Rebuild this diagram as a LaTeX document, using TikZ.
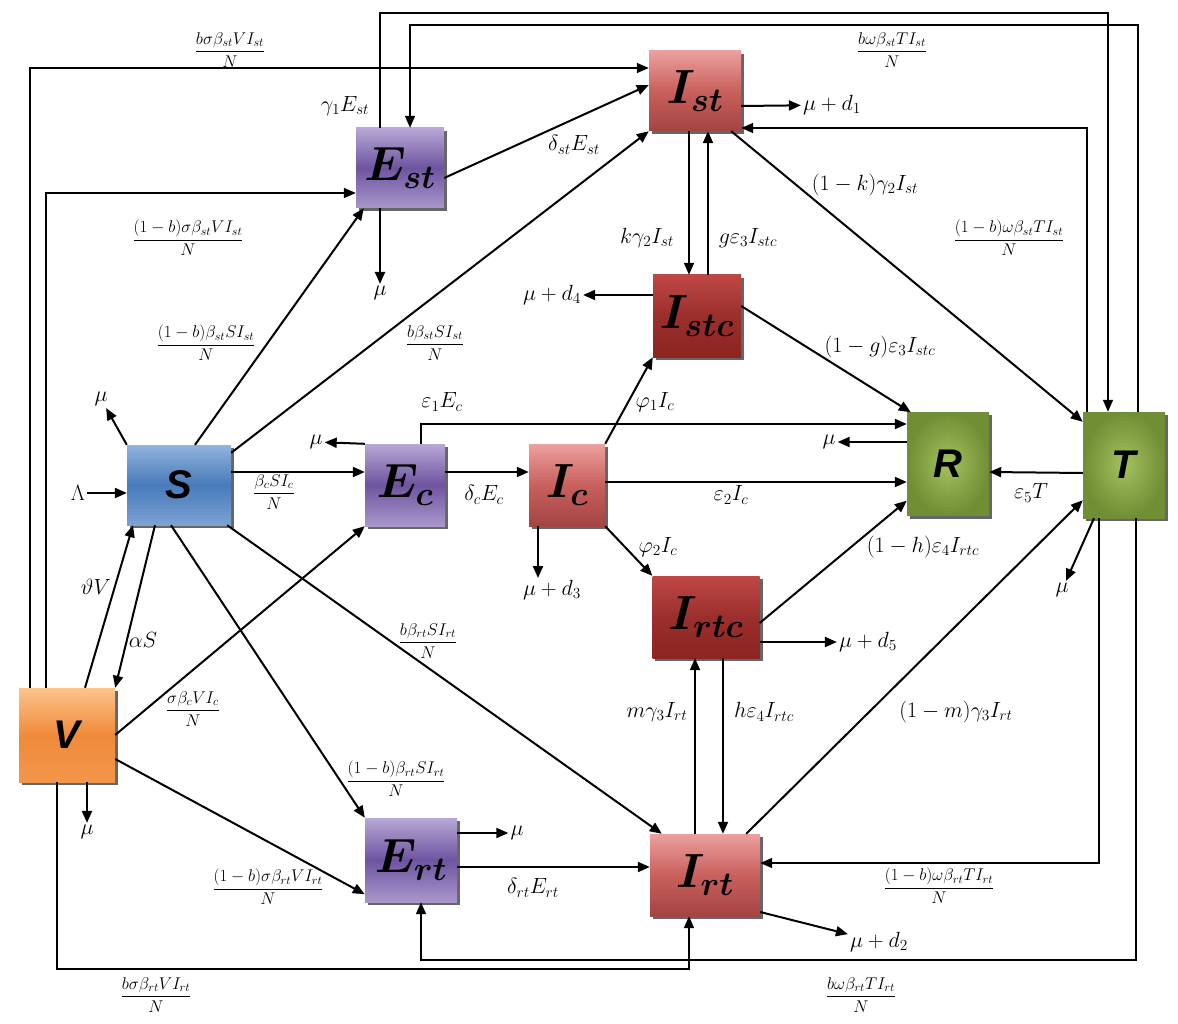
\RequirePackage{fix-cm}
\documentclass[tikz,border=0pt]{standalone}
\usepackage{amsmath}
\usepackage{fontspec}
\newfontfamily\boxsans{Liberation Sans}
\usetikzlibrary{arrows.meta}
\pgfdeclarelayer{back}
\pgfsetlayers{back,main}

\definecolor{purpleL}{RGB}{184,168,214}
\definecolor{purpleD}{RGB}{110,84,160}
\definecolor{redL}{RGB}{236,160,158}
\definecolor{redD}{RGB}{192,80,77}
\definecolor{dredL}{RGB}{190,72,70}
\definecolor{dredD}{RGB}{140,36,34}
\definecolor{blueL}{RGB}{146,180,222}
\definecolor{blueD}{RGB}{72,122,186}
\definecolor{greenL}{RGB}{164,194,94}
\definecolor{greenD}{RGB}{112,142,52}
\definecolor{orangeL}{RGB}{251,196,140}
\definecolor{orangeD}{RGB}{240,138,58}

\tikzset{
	cbox/.style={minimum width=88pt, minimum height=80pt, inner sep=0pt, font=\fontsize{48}{52}\selectfont},
	sansname/.style={font=\fontsize{40}{44}\selectfont\boxsans\bfseries\itshape},
	purplebox/.style={cbox, top color=purpleL, bottom color=purpleL!80!purpleD, middle color=purpleD},
	redbox/.style={cbox, top color=redL, bottom color=redD!85!black, middle color=redD!80!redL},
	darkredbox/.style={cbox, top color=dredL, bottom color=dredD, middle color=dredD!70!dredL},
	bluebox/.style={cbox, top color=blueL, bottom color=blueL!70!blueD, middle color=blueD},
	greenbox/.style={cbox, inner color=greenL, outer color=greenD},
	orangebox/.style={cbox, top color=orangeL, bottom color=orangeD!80!orangeL, middle color=orangeD},
	flowline/.style={line width=2pt, -{Triangle[length=12pt,width=10pt]}},
	rail/.style={flowline, line width=1.5pt},
	lbl/.style={font=\fontsize{22}{26}\selectfont, inner sep=2pt},
	fraclbl/.style={font=\fontsize{17}{20}\selectfont, inner sep=1pt},
}

\begin{document}
\begin{tikzpicture}[x=1pt, y=-1pt]
	\useasboundingbox (0,0) rectangle (1178,1024);

	\node[purplebox] (Est) at (400,168) {$\boldsymbol{E_{st}}$};
	\node[redbox, minimum width=92pt] (Ist) at (695,91) {$\boldsymbol{I_{st}}$};
	\node[darkredbox, minimum height=82pt] (Istc) at (697,316) {$\boldsymbol{I_{stc}}$};
	\node[bluebox, sansname, minimum width=104pt] (S) at (179,485) {S};
	\node[purplebox, minimum width=80pt, minimum height=82pt] (Ec) at (405,485) {$\boldsymbol{E_{c}}$};
	\node[redbox, minimum width=76pt, minimum height=82pt] (Ic) at (567,485) {$\boldsymbol{I_{c}}$};
	\node[greenbox, sansname, minimum width=82pt, minimum height=103pt] (R) at (948,464) {R};
	\node[greenbox, sansname, minimum width=82pt, minimum height=106pt] (T) at (1124,465) {T};
	\node[darkredbox, minimum width=107pt, minimum height=82pt] (Irtc) at (706,617) {$\boldsymbol{I_{rtc}}$};
	\node[orangebox, sansname, minimum width=96pt, minimum height=94pt] (V) at (67,735) {V};
	\node[purplebox, minimum width=92pt, minimum height=84pt] (Ert) at (411,860) {$\boldsymbol{E_{rt}}$};
	\node[redbox, minimum width=110pt, minimum height=82pt] (Irt) at (705,875) {$\boldsymbol{I_{rt}}$};
	\begin{pgfonlayer}{back}
		\foreach \n in {Est,Ist,Istc,S,Ec,Ic,R,T,Irtc,V,Ert,Irt}
			\fill[black!60] ([xshift=3pt,yshift=-3pt]\n.south west) rectangle ([xshift=3pt,yshift=-3pt]\n.north east);
	\end{pgfonlayer}

	\coordinate (cEstT) at (1108,13);
	\coordinate (cTEst) at (1138,25);
	\coordinate (cTErt) at (1136,960);
	\coordinate (cVIrt) at (57,969);

	\node[fraclbl] (fVIst) at (230,50) {$\dfrac{b\sigma\beta_{st}VI_{st}}{N}$};
	\node[fraclbl] (fTEst) at (892,50) {$\dfrac{b\omega\beta_{st}TI_{st}}{N}$};
	\node[lbl] (gEst) at (345,106) {$\gamma_1E_{st}$};
	\node[fraclbl] (fVEst) at (188,238) {$\dfrac{(1-b)\sigma\beta_{st}VI_{st}}{N}$};
	\node[lbl] (dEst) at (574,145) {$\delta_{st}E_{st}$};
	\node[lbl] (muEst) at (380,293) {$\mu$};
	\node[fraclbl] (fSEst) at (206,343) {$\dfrac{(1-b)\beta_{st}SI_{st}}{N}$};
	\node[fraclbl] (fSIst) at (435,343) {$\dfrac{b\beta_{st}SI_{st}}{N}$};
	\node[lbl] (kIst) at (647,238) {$k\gamma_2I_{st}$};
	\node[lbl] (gIstc) at (748,238) {$g\varepsilon_3I_{stc}$};
	\node[lbl] (kT) at (865,185) {$(1-k)\gamma_2I_{st}$};
	\node[fraclbl] (fTIst) at (1009,238) {$\dfrac{(1-b)\omega\beta_{st}TI_{st}}{N}$};
	\node[lbl] (mud1) at (832,105) {$\mu+d_1$};
	\node[lbl] (mud4) at (552,295) {$\mu+d_4$};
	\node[lbl] (gR) at (880,347) {$(1-g)\varepsilon_3I_{stc}$};
	\node[lbl] (muS) at (101,399) {$\mu$};
	\node[lbl] (eEc) at (442,402) {$\varepsilon_1E_c$};
	\node[lbl] (Lam) at (78,493) {$\Lambda$};
	\node[fraclbl] (fSEc) at (274,492) {$\dfrac{\beta_cSI_c}{N}$};
	\node[lbl] (dEc) at (484,495) {$\delta_cE_c$};
	\node[lbl] (muEc) at (316,442) {$\mu$};
	\node[lbl] (pIstc) at (655,402) {$\varphi_1I_c$};
	\node[lbl] (eIc) at (731,495) {$\varepsilon_2I_c$};
	\node[lbl] (muR) at (829,442) {$\mu$};
	\node[lbl] (eT) at (1031,493) {$\varepsilon_5T$};
	\node[lbl] (pIrtc) at (658,547) {$\varphi_2I_c$};
	\node[lbl] (hR) at (923,547) {$(1-h)\varepsilon_4I_{rtc}$};
	\node[lbl] (mud3) at (552,590) {$\mu+d_3$};
	\node[lbl] (muT) at (1062,590) {$\mu$};
	\node[lbl] (thV) at (96,587) {$\vartheta V$};
	\node[lbl] (aS) at (143,640) {$\alpha S$};
	\node[fraclbl] (fSIrt) at (428,641) {$\dfrac{b\beta_{rt}SI_{rt}}{N}$};
	\node[fraclbl] (fVEc) at (193,709) {$\dfrac{\sigma\beta_cVI_c}{N}$};
	\node[lbl] (mud5) at (868,642) {$\mu+d_5$};
	\node[lbl] (mIrt) at (657,712) {$m\gamma_3I_{rt}$};
	\node[lbl] (hIrtc) at (764,712) {$h\varepsilon_4I_{rtc}$};
	\node[lbl] (mT) at (956,712) {$(1-m)\gamma_3I_{rt}$};
	\node[fraclbl] (fSErt) at (396,779) {$\dfrac{(1-b)\beta_{rt}SI_{rt}}{N}$};
	\node[lbl] (muV) at (87,832) {$\mu$};
	\node[fraclbl] (fVErt) at (268,887) {$\dfrac{(1-b)\sigma\beta_{rt}VI_{rt}}{N}$};
	\node[lbl] (muErt) at (517,833) {$\mu$};
	\node[lbl] (dErt) at (533,888) {$\delta_{rt}E_{rt}$};
	\node[fraclbl] (fTIrt) at (939,886) {$\dfrac{(1-b)\omega\beta_{rt}TI_{rt}}{N}$};
	\node[lbl] (mud2) at (879,942) {$\mu+d_2$};
	\node[fraclbl] (fVIrt) at (156,995) {$\dfrac{b\sigma\beta_{rt}VI_{rt}}{N}$};
	\node[fraclbl] (fTErt) at (861,995) {$\dfrac{b\omega\beta_{rt}TI_{rt}}{N}$};

	\draw[rail] ([xshift=-37pt]V.north) |- ([yshift=23pt]Ist.west);
	\draw[rail] ([xshift=-21pt]V.north) |- ([yshift=-25pt]Est.west);
	\draw[rail] ([xshift=-20pt]Est.north) |- (cEstT) -- ([xshift=-16pt]T.north);
	\draw[rail] ([xshift=14pt]T.north) -- (cTEst) -| ([xshift=10pt]Est.north);
	\draw[rail] ([xshift=-37pt]T.north) |- ([yshift=-37pt]Ist.east);
	\draw[rail] ([xshift=-25pt]T.south) |- ([yshift=12pt]Irt.east);
	\draw[rail] ([xshift=12pt]T.south) -- (cTErt) -| ([xshift=10pt]Ert.south);
	\draw[rail] ([xshift=-10pt]V.south) -- (cVIrt) -| ([xshift=-16pt]Irt.south);

	\draw[flowline] (Lam) -- (S.west |- Lam);
	\draw[flowline] (S.north west) -- (muS);
	\draw[flowline] ([yshift=13pt]S.east) -- ([yshift=13pt]Ec.west);
	\draw[flowline] ([xshift=16pt]S.north) -- ([xshift=8pt]Est.south west);
	\draw[flowline] ([yshift=-8pt]S.north east) -- (Ist.south west);
	\draw[flowline] ([xshift=18pt]V.north) -- ([xshift=-46pt]S.south);
	\draw[flowline] ([xshift=-24pt]S.south) -- (V.north east);
	\draw[flowline] ([xshift=-8pt]S.south) -- (Ert.north west);
	\draw[flowline] ([xshift=-4pt]S.south east) -- ([xshift=12pt]Irt.north west);
	\draw[flowline] (V.east) -- (Ec.south west);
	\draw[flowline] ([yshift=-24pt]V.east) -- ([yshift=8pt]Ert.south west);
	\draw[flowline] ([xshift=20pt]V.south) -- (muV);

	\draw[flowline] ([yshift=-10pt]Est.east) -- ([yshift=6pt]Ist.west);
	\draw[flowline] ([xshift=-20pt]Est.south) -- (muEst);
	\draw[flowline] ([yshift=-15pt]Ist.east) -- (mud1);
	\draw[flowline] ([xshift=-6pt]Ist.south) -- ([xshift=-8pt]Istc.north);
	\draw[flowline] ([xshift=11pt]Istc.north) -- ([xshift=13pt]Ist.south);
	\draw[flowline] ([xshift=-10pt]Ist.south east) -- ([yshift=-10pt]T.north west);
	\draw[flowline] ([yshift=21pt]Istc.west) -- (mud4);
	\draw[flowline] ([yshift=10pt]Istc.east) -- ([xshift=4pt]R.north west);

	\draw[flowline] (Ec.north west) -- (muEc);
	\draw[flowline] ([xshift=16pt]Ec.north) |- ([yshift=40pt]R.west);
	\draw[flowline] ([yshift=13pt]Ec.east) -- ([yshift=13pt]Ic.west);
	\draw[flowline] ([yshift=3pt]Ic.east) -- ([yshift=-18pt]R.west);
	\draw[flowline] (Ic.north east) -- (Istc.south west);
	\draw[flowline] (Ic.south east) -- (Irtc.north west);
	\coordinate (icb) at ([xshift=-29pt]Ic.south);
	\draw[flowline] (icb) -- (icb |- mud3.north);

	\draw[flowline] ([yshift=22pt]R.west) -- (muR);
	\draw[flowline] ([yshift=-8pt]T.west) -- ([yshift=-8pt]R.east);
	\draw[flowline] ([xshift=-30pt]T.south) -- (muT);

	\draw[flowline] ([yshift=-6pt]Irtc.east) -- ([yshift=15pt]R.south west);
	\draw[flowline] ([yshift=-25pt]Irtc.east) -- (mud5);
	\draw[flowline] ([xshift=-10pt]Irt.north) -- ([xshift=-11pt]Irtc.south);
	\draw[flowline] ([xshift=17pt]Irtc.south) -- ([xshift=18pt]Irt.north);
	\draw[flowline] ([xshift=-14pt]Irt.north east) -- ([yshift=18pt]T.south west);
	\draw[flowline] ([yshift=-7pt]Ert.east) -- ([yshift=8pt]Irt.west);
	\draw[flowline] ([yshift=27pt]Ert.east) -- (muErt);
	\draw[flowline] ([yshift=-37pt]Irt.east) -- (mud2);
\end{tikzpicture}
\end{document}
